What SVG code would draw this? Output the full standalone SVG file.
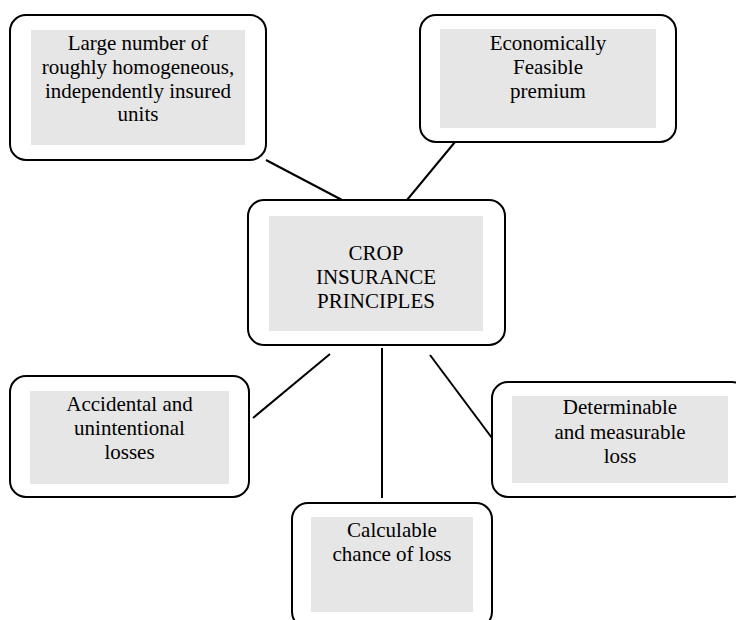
<svg xmlns="http://www.w3.org/2000/svg" width="736" height="620" viewBox="0 0 736 620">
<style>
.box{fill:#ffffff;stroke:#000000;stroke-width:2}
.pad{fill:#e6e6e6;stroke:none}
.lbl{font-size:21px;fill:#000000;text-anchor:middle}
.edge{stroke:#000000;stroke-width:2;fill:none}
</style>
<rect width="736" height="620" fill="#ffffff"/>
<g id="connectors">
<line class="edge" x1="266" y1="160" x2="342" y2="200"/>
<line class="edge" x1="455" y1="142" x2="407" y2="200"/>
<line class="edge" x1="253" y1="418" x2="330" y2="354"/>
<line class="edge" x1="382" y1="348" x2="382" y2="498"/>
<line class="edge" x1="430" y1="355" x2="492" y2="438"/>
</g>
<g font-family="Liberation Serif, Tinos, DejaVu Serif, serif">
<g id="node-large-number">
<rect class="box" x="10" y="15" width="256" height="145" rx="16"/>
<rect class="pad" x="31" y="30" width="214" height="115"/>
<text class="lbl" x="138" y="50">Large number of</text>
<text class="lbl" x="138" y="74">roughly homogeneous,</text>
<text class="lbl" x="138" y="97.5">independently insured</text>
<text class="lbl" x="138" y="121">units</text>
</g>
<g id="node-premium">
<rect class="box" x="420" y="15" width="256" height="127" rx="16"/>
<rect class="pad" x="440" y="29" width="216" height="99"/>
<text class="lbl" x="548" y="50">Economically</text>
<text class="lbl" x="548" y="74">Feasible</text>
<text class="lbl" x="548" y="98">premium</text>
</g>
<g id="node-center">
<rect class="box" x="248" y="200" width="257" height="145" rx="16"/>
<rect class="pad" x="269" y="216" width="214" height="115"/>
<text class="lbl" x="376" y="260">CROP</text>
<text class="lbl" x="376" y="284">INSURANCE</text>
<text class="lbl" x="376" y="308">PRINCIPLES</text>
</g>
<g id="node-accidental">
<rect class="box" x="10" y="376" width="239" height="121" rx="16"/>
<rect class="pad" x="30" y="391" width="199" height="93"/>
<text class="lbl" x="129.5" y="410.5">Accidental and</text>
<text class="lbl" x="129.5" y="434.5">unintentional</text>
<text class="lbl" x="129.5" y="458.5">losses</text>
</g>
<g id="node-determinable">
<rect class="box" x="492" y="382" width="256" height="115" rx="16"/>
<rect class="pad" x="512" y="396" width="216" height="87"/>
<text class="lbl" x="620" y="414">Determinable</text>
<text class="lbl" x="620" y="439">and measurable</text>
<text class="lbl" x="620" y="463">loss</text>
</g>
<g id="node-calculable">
<rect class="box" x="292" y="503" width="200" height="125" rx="16"/>
<rect class="pad" x="311" y="517" width="162" height="95"/>
<text class="lbl" x="392" y="537">Calculable</text>
<text class="lbl" x="392" y="561">chance of loss</text>
</g>
</g>
</svg>
